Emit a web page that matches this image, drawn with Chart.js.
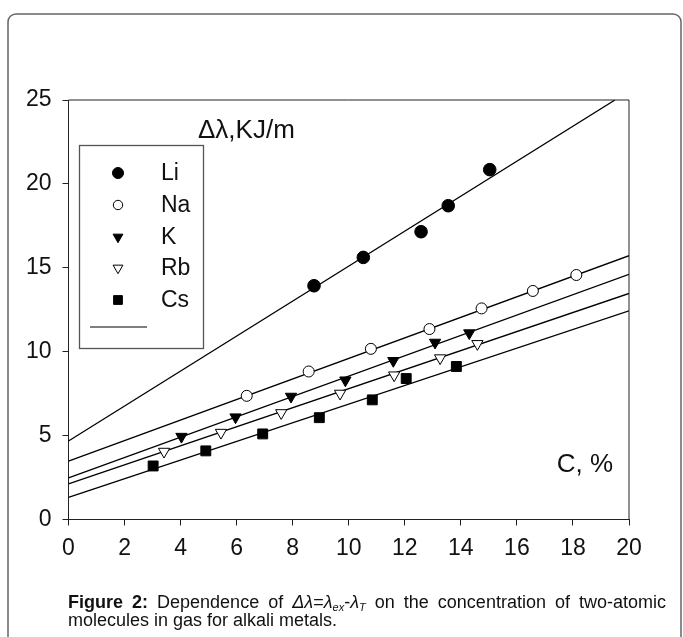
<!DOCTYPE html>
<html><head><meta charset="utf-8">
<script src="https://cdn.jsdelivr.net/npm/chart.js@4.4.0/dist/chart.umd.min.js"></script>
<style>
html,body{margin:0;padding:0;background:#fff;}
#wrap{position:relative;width:683px;height:637px;overflow:hidden;}
canvas{position:absolute;left:0;top:0;}
.cap{position:absolute;left:68px;width:598px;font-family:'Liberation Sans',Arial,sans-serif;font-size:18px;color:#111;line-height:18px;white-space:nowrap;}
.cap sub{font-size:11px;vertical-align:-3px;line-height:0;}
</style></head>
<body><div id="wrap"><canvas id="c" width="683" height="637"></canvas>
<div class="cap" style="top:593px;text-align:justify;text-align-last:justify;"><b>Figure 2:</b> Dependence of <i>Δλ</i>=<i>λ</i><sub><i>ex</i></sub>-<i>λ</i><sub><i>T</i></sub> on the concentration of two-atomic</div>
<div class="cap" style="top:611px;">molecules in gas for alkali metals.</div>
</div>
<script>
// ---- data ----
const seriesNames = ['Li', 'Na', 'K', 'Rb', 'Cs'];
const liX = [8.76, 10.52, 12.58, 13.55, 15.03];
const liY = [13.93, 15.62, 17.15, 18.70, 20.85];
const naX = [6.36, 8.57, 10.79, 12.88, 14.74, 16.57, 18.12];
const naY = [7.37, 8.82, 10.17, 11.35, 12.58, 13.62, 14.57];
const kX  = [4.03, 5.96, 7.94, 9.88, 11.59, 13.08, 14.30];
const kY  = [4.94, 6.10, 7.33, 8.30, 9.46, 10.55, 11.11];
const rbX = [3.41, 5.44, 7.59, 9.69, 11.62, 13.26, 14.59];
const rbY = [4.05, 5.18, 6.35, 7.51, 8.60, 9.62, 10.47];
const csX = [3.02, 4.90, 6.93, 8.95, 10.84, 12.05, 13.84];
const csY = [3.19, 4.09, 5.10, 6.07, 7.13, 8.40, 9.12];
// fitted straight lines: end points
const liFitX = [0, 19.5];  const liFitY = [4.68, 25.0];
const naFitX = [0, 20];    const naFitY = [3.48, 15.72];
const kFitX  = [0, 20];    const kFitY  = [2.48, 14.61];
const rbFitX = [0, 20];    const rbFitY = [2.12, 13.47];
const csFitX = [0, 20];    const csFitY = [1.32, 12.44];
const xTicks = [0, 2, 4, 6, 8, 10, 12, 14, 16, 18, 20];
const yTicks = [0, 5, 10, 15, 20, 25];
const yTitle = 'Δλ,KJ/m';
const xTitle = 'C, %';

const pts = (xs, ys) => xs.map((x, i) => ({x, y: ys[i]}));

const markerStyles = [
  {pointStyle: 'circle', radius: 6.3, rotation: 0, fill: '#000'},
  {pointStyle: 'circle', radius: 5.5, rotation: 0, fill: '#fff'},
  {pointStyle: 'triangle', radius: 6.5, rotation: 180, fill: '#000'},
  {pointStyle: 'triangle', radius: 6.5, rotation: 180, fill: '#fff'},
  {pointStyle: 'rect', radius: 7, rotation: 0, fill: '#000'}
];
const markerData = [pts(liX, liY), pts(naX, naY), pts(kX, kY), pts(rbX, rbY), pts(csX, csY)];
const fitData = [pts(liFitX, liFitY), pts(naFitX, naFitY), pts(kFitX, kFitY), pts(rbFitX, rbFitY), pts(csFitX, csFitY)];

const datasets = [];
fitData.forEach((d, i) => datasets.push({
  label: seriesNames[i] + ' fit', data: d, showLine: true, borderColor: '#000', borderWidth: 1.3,
  pointRadius: 0, pointHoverRadius: 0, order: 10, fill: false
}));
markerData.forEach((d, i) => {
  const m = markerStyles[i];
  datasets.push({
    label: seriesNames[i], data: d, showLine: false, order: 1,
    pointStyle: m.pointStyle, pointRadius: m.radius, pointRotation: m.rotation,
    pointBackgroundColor: m.fill, pointBorderColor: '#000', pointBorderWidth: 1
  });
});

const deco = {
  id: 'deco',
  beforeDraw(chart) {
    const ctx = chart.ctx;
    ctx.save();
    ctx.fillStyle = '#fff';
    ctx.fillRect(0, 0, chart.width, chart.height);
    ctx.strokeStyle = '#666';
    ctx.lineWidth = 1.5;
    ctx.beginPath();
    ctx.roundRect(8, 14, 673, 660, 8);
    ctx.stroke();
    ctx.restore();
  },
  afterDraw(chart) {
    const ctx = chart.ctx;
    const a = chart.chartArea;
    ctx.save();
    ctx.strokeStyle = '#222';
    ctx.lineWidth = 1;
    ctx.beginPath();
    ctx.moveTo(a.left, a.top); ctx.lineTo(a.right, a.top); ctx.lineTo(a.right, a.bottom);
    ctx.stroke();
    ctx.fillStyle = '#111';
    ctx.font = '26px "Liberation Sans", Arial, sans-serif';
    ctx.textBaseline = 'middle';
    ctx.textAlign = 'left';
    ctx.fillText(yTitle, 198, 131);
    ctx.textAlign = 'right';
    ctx.fillText(xTitle, 613, 465);
    ctx.strokeStyle = '#555';
    ctx.lineWidth = 1.3;
    ctx.strokeRect(79.5, 145.5, 124, 203);
    const rows = [173, 205, 237, 268, 300];
    ctx.font = '23px "Liberation Sans", Arial, sans-serif';
    ctx.textAlign = 'left';
    seriesNames.forEach((n, i) => {
      const m = markerStyles[i];
      ctx.fillStyle = m.fill; ctx.strokeStyle = '#000'; ctx.lineWidth = 1;
      Chart.helpers.drawPoint(ctx, {pointStyle: m.pointStyle, radius: m.radius - 0.8, rotation: m.rotation, borderWidth: 1}, 118, rows[i]);
      ctx.fillStyle = '#111';
      ctx.fillText(n, 161, rows[i] + 1);
    });
    ctx.strokeStyle = '#555';
    ctx.lineWidth = 1.5;
    ctx.beginPath(); ctx.moveTo(90, 327); ctx.lineTo(147, 327); ctx.stroke();
    ctx.restore();
  }
};

new Chart(document.getElementById('c'), {
  type: 'scatter',
  data: {datasets},
  options: {
    responsive: false, animation: false,
    layout: {padding: {left: 0, top: 100, right: 54, bottom: 72.5}},
    plugins: {legend: {display: false}, tooltip: {enabled: false}},
    scales: {
      x: {
        type: 'linear', min: 0, max: 20,
        afterBuildTicks: s => { s.ticks = xTicks.map(v => ({value: v})); },
        afterFit: s => { s.height = 45; },
        ticks: {color: '#111', padding: 9, maxRotation: 0, autoSkip: false,
          font: {family: "'Liberation Sans',Arial,sans-serif", size: 23}},
        grid: {display: true, drawOnChartArea: false, drawTicks: true, tickLength: 6, tickColor: '#222'},
        border: {display: true, color: '#222', width: 1}
      },
      y: {
        type: 'linear', min: 0, max: 25,
        afterBuildTicks: s => { s.ticks = yTicks.map(v => ({value: v})); },
        afterFit: s => { s.width = 68.5; },
        ticks: {color: '#111', padding: 11, autoSkip: false,
          font: {family: "'Liberation Sans',Arial,sans-serif", size: 23}},
        grid: {display: true, drawOnChartArea: false, drawTicks: true, tickLength: 6, tickColor: '#222'},
        border: {display: true, color: '#222', width: 1}
      }
    }
  },
  plugins: [deco]
});
</script>
</body></html>
